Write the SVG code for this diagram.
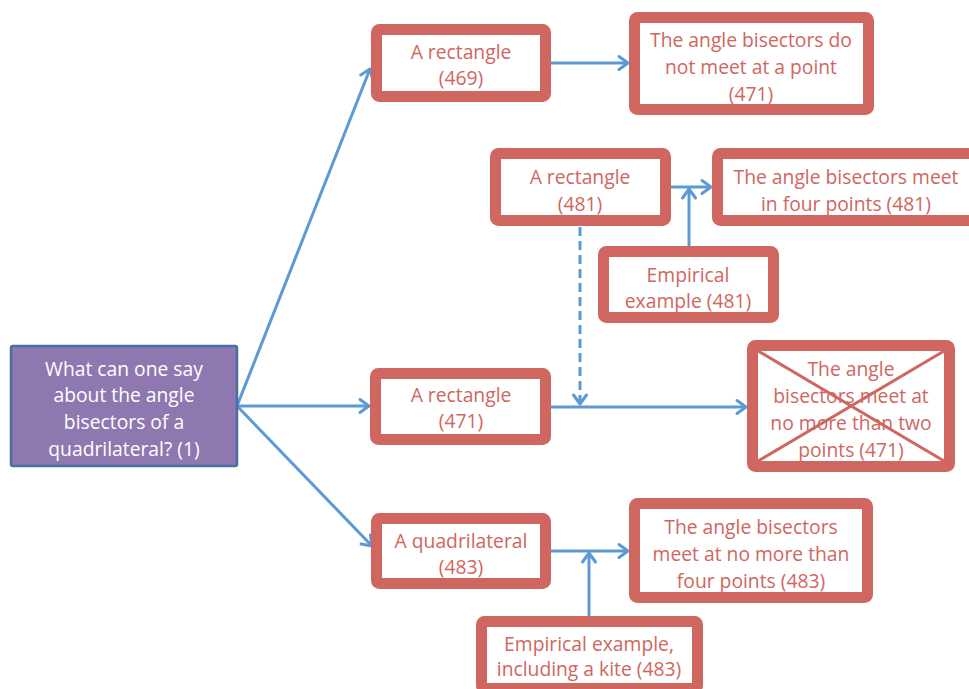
<svg xmlns="http://www.w3.org/2000/svg" width="969" height="689" viewBox="0 0 969 689">
  <style>
    .box { fill: #ffffff; stroke: #CF6660; stroke-width: 11; }
    .root { fill: #8F78B0; stroke: #48709E; stroke-width: 2.5; }
    .lbl { font-family: "Open Sans", "Liberation Sans", sans-serif; font-size: 19.3px; fill: #CF6660; text-anchor: middle; }
    .lbl-w { font-family: "Open Sans", "Liberation Sans", sans-serif; font-size: 19.3px; fill: #ffffff; text-anchor: middle; }
    .edge { fill: none; stroke: #5B9AD4; stroke-width: 3; }
    .dash { stroke-dasharray: 9 5; }
    .cross { stroke: #CF6660; stroke-width: 3; }
  </style>
  <defs>
    <marker id="arrow" markerUnits="userSpaceOnUse" markerWidth="24" markerHeight="24" viewBox="-12 -12 24 24" refX="0" refY="0" orient="auto">
      <path d="M-9,-6.5 L0,0 L-9,6.5" fill="none" stroke="#5B9AD4" stroke-width="3" stroke-linecap="round" stroke-linejoin="round"/>
    </marker>
  </defs>

  <g id="connectors">
    <line class="edge" x1="237" y1="406" x2="370" y2="69" marker-end="url(#arrow)"/>
    <line class="edge" x1="237" y1="406" x2="369" y2="406" marker-end="url(#arrow)"/>
    <line class="edge" x1="237" y1="406" x2="372" y2="546" marker-end="url(#arrow)"/>
    <line class="edge" x1="546" y1="63" x2="628" y2="63" marker-end="url(#arrow)"/>
    <line class="edge" x1="666" y1="187" x2="711" y2="187" marker-end="url(#arrow)"/>
    <line class="edge" x1="689" y1="246" x2="689" y2="189" marker-end="url(#arrow)"/>
    <line class="edge dash" x1="580" y1="227" x2="580" y2="404" marker-end="url(#arrow)"/>
    <line class="edge" x1="546" y1="407" x2="746" y2="407" marker-end="url(#arrow)"/>
    <line class="edge" x1="546" y1="551" x2="628" y2="551" marker-end="url(#arrow)"/>
    <line class="edge" x1="589" y1="616" x2="589" y2="553" marker-end="url(#arrow)"/>
  </g>

  <g id="question">
    <rect class="root" x="11" y="346" width="226" height="120" rx="2"/>
    <text class="lbl-w" x="124" y="376">What can one say</text>
    <text class="lbl-w" x="124" y="402">about the angle</text>
    <text class="lbl-w" x="124" y="429">bisectors of a</text>
    <text class="lbl-w" x="124" y="456">quadrilateral? (1)</text>
  </g>

  <g id="rect-469">
    <rect class="box" x="376.5" y="29.5" width="169" height="67" rx="3"/>
    <text class="lbl" x="461" y="59">A rectangle</text>
    <text class="lbl" x="461" y="85">(469)</text>
  </g>

  <g id="no-point-471">
    <rect class="box" x="634.5" y="17.5" width="234" height="92" rx="3"/>
    <text class="lbl" x="751" y="47">The angle bisectors do</text>
    <text class="lbl" x="751" y="74">not meet at a point</text>
    <text class="lbl" x="751" y="101">(471)</text>
  </g>

  <g id="rect-481">
    <rect class="box" x="495.5" y="153.5" width="170" height="67" rx="3"/>
    <text class="lbl" x="580" y="184">A rectangle</text>
    <text class="lbl" x="580" y="211">(481)</text>
  </g>

  <g id="four-points-481">
    <rect class="box" x="717.5" y="153.5" width="262" height="67" rx="3"/>
    <text class="lbl" x="846" y="184">The angle bisectors meet</text>
    <text class="lbl" x="846" y="211">in four points (481)</text>
  </g>

  <g id="empirical-481">
    <rect class="box" x="603.5" y="251.5" width="170" height="66" rx="3"/>
    <text class="lbl" x="688" y="282">Empirical</text>
    <text class="lbl" x="688" y="308">example (481)</text>
  </g>

  <g id="rect-471">
    <rect class="box" x="375.5" y="373.5" width="170" height="66" rx="3"/>
    <text class="lbl" x="461" y="402">A rectangle</text>
    <text class="lbl" x="461" y="428">(471)</text>
  </g>

  <g id="two-points-471">
    <rect class="box" x="752.5" y="345.5" width="197" height="121" rx="3"/>
    <text class="lbl" x="851" y="376">The angle</text>
    <text class="lbl" x="851" y="403">bisectors meet at</text>
    <text class="lbl" x="851" y="430">no more than two</text>
    <text class="lbl" x="851" y="457">points (471)</text>
    <line class="cross" x1="758" y1="351" x2="944" y2="461"/>
    <line class="cross" x1="944" y1="351" x2="758" y2="461"/>
  </g>

  <g id="quadrilateral-483">
    <rect class="box" x="376.5" y="518.5" width="169" height="65" rx="3"/>
    <text class="lbl" x="461" y="548">A quadrilateral</text>
    <text class="lbl" x="461" y="574">(483)</text>
  </g>

  <g id="four-points-483">
    <rect class="box" x="634.5" y="503.5" width="233" height="94" rx="3"/>
    <text class="lbl" x="751" y="534">The angle bisectors</text>
    <text class="lbl" x="751" y="561">meet at no more than</text>
    <text class="lbl" x="751" y="588">four points (483)</text>
  </g>

  <g id="kite-483">
    <rect class="box" x="481.5" y="621.5" width="216" height="67" rx="3"/>
    <text class="lbl" x="589" y="651">Empirical example,</text>
    <text class="lbl" x="589" y="676">including a kite (483)</text>
  </g>
</svg>
